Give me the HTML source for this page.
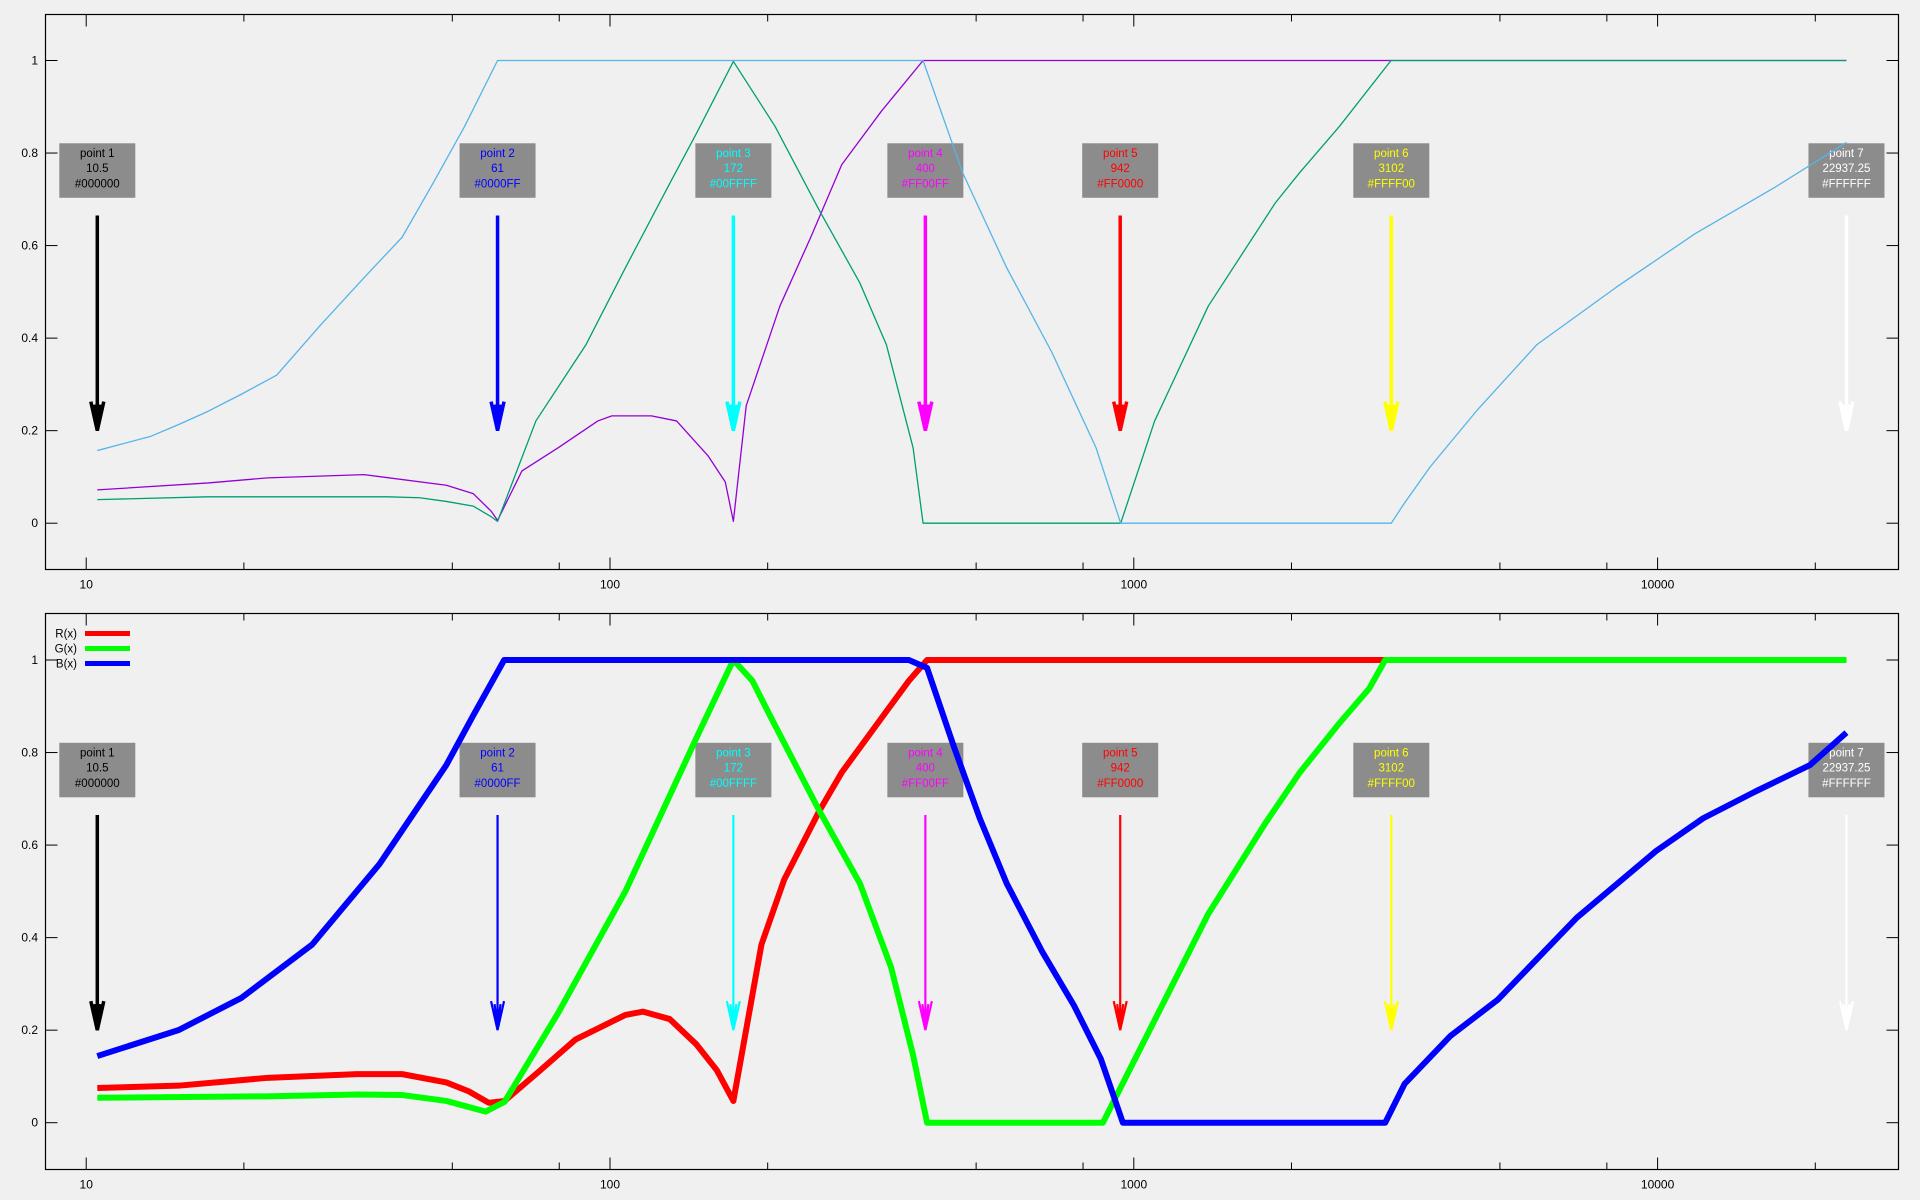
<!DOCTYPE html>
<html><head><meta charset="utf-8"><style>
html,body{margin:0;padding:0;background:#f0f0f0;}
svg{display:block;font-family:"Liberation Sans",sans-serif;}
</style></head><body>
<svg id="chart" width="1920" height="1200" viewBox="0 0 1920 1200" xmlns="http://www.w3.org/2000/svg">
<rect x="0" y="0" width="1920" height="1200" fill="#f0f0f0"/>
</svg>
<script>
// ---- data ----
const pointNames = ["point 1","point 2","point 3","point 4","point 5","point 6","point 7"];
const pointX = [10.5, 61, 172, 400, 942, 3102, 22937.25];
const pointXLabels = ["10.5","61","172","400","942","3102","22937.25"];
const pointHex = ["#000000","#0000FF","#00FFFF","#FF00FF","#FF0000","#FFFF00","#FFFFFF"];
const xTickValues = [10, 100, 1000, 10000];
const xTickLabels = ["10","100","1000","10000"];
const xMinorTicks = [20, 50, 80, 200, 500, 800, 2000, 5000, 8000, 20000];
const yTickValues = [0, 0.2, 0.4, 0.6, 0.8, 1];
const yTickLabels = ["0","0.2","0.4","0.6","0.8","1"];

// top panel (thin)
const topRx = [10.5,17.1,22.2,33.9,48.7,54.8,59.3,61,67.9,79.6,94.8,100.8,120,134,153.8,166,172,182,211,241.7,277,330,396,22937.25];
const topRy = [0.072,0.087,0.098,0.105,0.082,0.064,0.026,0.006,0.113,0.163,0.221,0.232,0.232,0.221,0.146,0.089,0.004,0.254,0.469,0.618,0.775,0.891,1.0,1.0];
const topGx = [10.5,17,30,37.7,43.3,48.7,54.8,59.3,61,72.2,90,107,130,146,172,206.5,251,300,337,379,396,944,1096,1387,1862,2075,2471,3098,22937.25];
const topGy = [0.051,0.057,0.057,0.057,0.055,0.047,0.037,0.014,0.004,0.221,0.386,0.552,0.734,0.841,0.998,0.858,0.676,0.519,0.386,0.163,0,0,0.221,0.469,0.692,0.758,0.858,1.0,1.0];
const topBx = [10.5,13.3,15,17.1,19.8,23.1,28,34.2,40.1,45.9,52.8,61,396,471,572,697,847,944,3102,3266,3681,4537,5883,8340,11800,16700,22937.25];
const topBy = [0.157,0.188,0.213,0.242,0.279,0.320,0.428,0.535,0.618,0.734,0.858,1.0,1.0,0.758,0.552,0.370,0.163,0,0,0.039,0.122,0.246,0.386,0.510,0.626,0.725,0.823];

// bottom panel (thick)
const botRx = [10.5,15,22.2,32.9,40.1,48.7,53.7,58.7,62.9,72.2,86,107,115.6,130,146,160,172,194.6,215,251,277,337,372,403,22937.25];
const botRy = [0.075,0.08,0.097,0.105,0.105,0.087,0.068,0.043,0.047,0.105,0.18,0.233,0.24,0.224,0.17,0.113,0.047,0.385,0.525,0.674,0.757,0.889,0.955,1.0,1.0];
const botGx = [10.5,22,33,40,48.7,57.9,62.9,79.6,107,146,172,187,202,251,300,344,379,403,873,1032,1387,1787,2075,2471,2813,3020,22937.25];
const botGy = [0.054,0.057,0.061,0.06,0.047,0.024,0.045,0.237,0.5,0.83,1.0,0.955,0.88,0.674,0.517,0.336,0.146,0,0,0.163,0.451,0.649,0.757,0.864,0.938,1.0,1.0];
const botBx = [10.5,15,19.8,27,36.3,48.7,54.8,62.8,372,403,453,508,572,669,769,865,953,3020,3289,4018,4955,7011,9930,12220,15320,19540,22937.25];
const botBy = [0.144,0.2,0.27,0.385,0.559,0.773,0.88,1.0,1.0,0.983,0.814,0.658,0.517,0.369,0.253,0.138,0,0,0.084,0.187,0.266,0.443,0.587,0.658,0.715,0.773,0.843];

// ---- layout ----
const NS = "http://www.w3.org/2000/svg";
const svg = document.getElementById("chart");
const left = 45.5, right = 1898.5;
function xScale(v){ return 86.2 + 523.8*Math.log10(v/10); }
const panels = [
  {top:14.5, bottom:569.5, y0:523.2, name:"top"},
  {top:613.5, bottom:1169.5, y0:1122.7, name:"bottom"}
];
const unit = 462.7;
function mk(tag, attrs, parent){
  const e = document.createElementNS(NS, tag);
  for (const k in attrs) e.setAttribute(k, attrs[k]);
  (parent||svg).appendChild(e);
  return e;
}
function path(xs, ys, p){
  let d = "";
  for (let i=0;i<xs.length;i++){
    const px = xScale(xs[i]), py = p.y0 - ys[i]*unit;
    d += (i?"L":"M") + px.toFixed(2) + " " + py.toFixed(2);
  }
  return d;
}

panels.forEach((p, pi) => {
  const g = mk("g", {});
  
  
  const fr = mk("rect", {x:left, y:p.top, width:right-left, height:p.bottom-p.top, fill:"none", stroke:"#000", "stroke-width":1.2}, g);
  
  
  const yv = v => p.y0 - v*unit;
  // y ticks
  yTickValues.forEach((v,i) => {
    const y = yv(v);
    mk("line", {x1:left, x2:left+12, y1:y, y2:y, stroke:"#000", "stroke-width":1}, g);
    mk("line", {x1:right-12, x2:right, y1:y, y2:y, stroke:"#000", "stroke-width":1}, g);
    const t = mk("text", {x:38, y:y+4, "text-anchor":"end", "font-size":12, fill:"#000"}, g);
    t.textContent = yTickLabels[i];
    
    
  });
  // x ticks
  xTickValues.forEach((v,i) => {
    const x = xScale(v);
    mk("line", {x1:x, x2:x, y1:p.bottom, y2:p.bottom-12, stroke:"#000", "stroke-width":1}, g);
    mk("line", {x1:x, x2:x, y1:p.top, y2:p.top+12, stroke:"#000", "stroke-width":1}, g);
    const t = mk("text", {x:x, y:p.bottom+19, "text-anchor":"middle", "font-size":12, fill:"#000"}, g);
    t.textContent = xTickLabels[i];
    
    
  });
  xMinorTicks.forEach(v => {
    const x = xScale(v);
    mk("line", {x1:x, x2:x, y1:p.bottom, y2:p.bottom-7, stroke:"#000", "stroke-width":1}, g);
    mk("line", {x1:x, x2:x, y1:p.top, y2:p.top+7, stroke:"#000", "stroke-width":1}, g);
  });
  // annotations
  pointX.forEach((v,i) => {
    const x = xScale(v);
    const box = mk("rect", {x:x-38, y:yv(0.82)-0.5, width:76, height:54.5, fill:"#8c8c8c"}, g);
    
    
    [pointNames[i], pointXLabels[i], pointHex[i]].forEach((s,k) => {
      const t = mk("text", {x:x, y:yv(0.82)+13+k*15.3, "text-anchor":"middle", "font-size":11.5, fill:pointHex[i]}, g);
      t.textContent = s;
      
      
    });
    const sw = (p.name==="top" || i===0) ? 3.5 : 2.2;
    const ytip = yv(0.2), ystart = yv(0.665);
    const ar = mk("path", {d:`M${x} ${ystart}L${x} ${ytip-2}M${x-6.5} ${ytip-29}L${x} ${ytip}L${x+6.5} ${ytip-29}M${x-3} ${ytip-26}L${x} ${ytip-4}L${x+3} ${ytip-26}`, stroke:pointHex[i], "stroke-width":sw, fill:"none"}, g);
    
    
  });
  // series
  let series;
  if (pi===0) series = [[topRx,topRy,"#9400d3","r"],[topGx,topGy,"#009e73","g"],[topBx,topBy,"#56b4e9","b"]];
  else series = [[botRx,botRy,"#ff0000","r"],[botGx,botGy,"#00ff00","g"],[botBx,botBy,"#0000ff","b"]];
  series.forEach(s => {
    const l = mk("path", {d:path(s[0],s[1],p), stroke:s[2], "stroke-width":pi===0?1.3:6, fill:"none", "stroke-linejoin":"round"}, g);
    
    
  });
});

// legend (bottom)
const legendLabels = ["R(x)","G(x)","B(x)"];
const legendColors = ["#ff0000","#00ff00","#0000ff"];
legendLabels.forEach((s,i) => {
  const y = 633.5 + i*15;
  const t = mk("text", {x:77, y:y+4, "text-anchor":"end", "font-size":11.5, fill:"#000"});
  t.textContent = s;
  
  
  const l = mk("line", {x1:85, x2:130, y1:y, y2:y, stroke:legendColors[i], "stroke-width":5});
  
  
});
</script>
</body></html>
